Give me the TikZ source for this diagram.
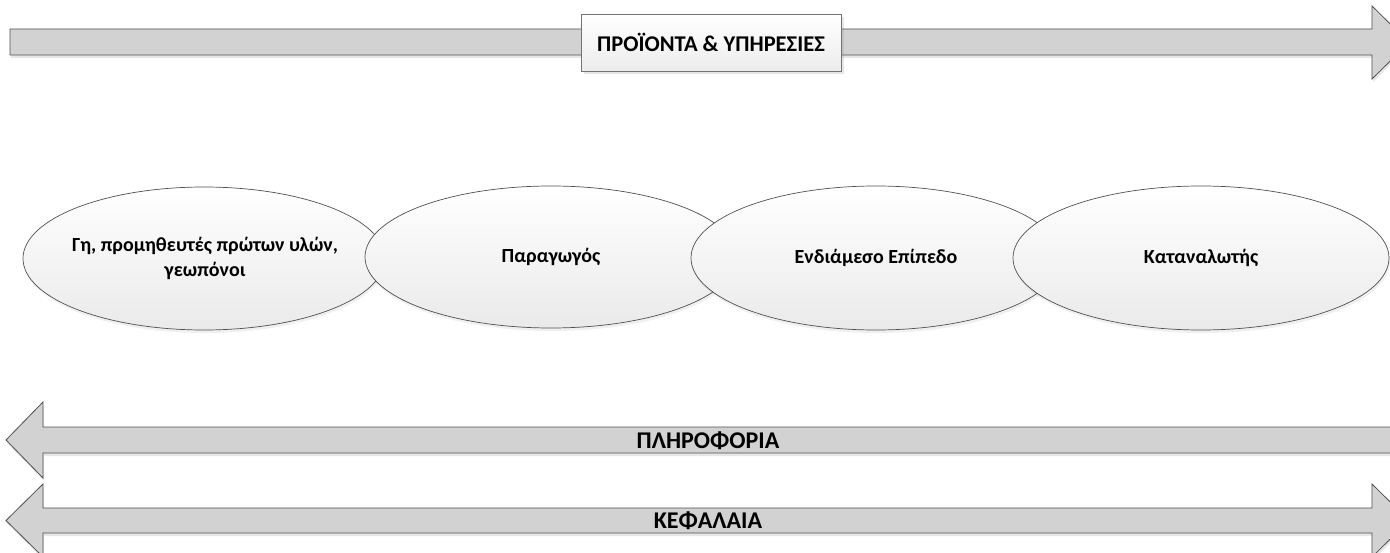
\documentclass[tikz,border=0pt]{standalone}
\usepackage{fontspec}
\setmainfont{Carlito}
\usetikzlibrary{shapes.geometric,shadows}
\definecolor{arrowfill}{RGB}{210,210,210}
\definecolor{edgegray}{RGB}{80,80,80}
\definecolor{ellbottom}{RGB}{234,234,234}
\definecolor{boxbottom}{RGB}{236,236,236}
\tikzset{
  blockarrow/.style={fill=arrowfill, draw=edgegray, line width=0.8pt, line join=miter,
    drop shadow={shadow xshift=1pt, shadow yshift=-3pt, opacity=0.2, fill=gray}},
  arrowtext/.style={font=\fontsize{24}{28}\selectfont\bfseries, text=black},
  ovaltext/.style={font=\fontsize{20}{25}\selectfont\bfseries, text=black, align=center},
  oval/.style={ellipse, draw=edgegray, line width=0.7pt, top color=white, bottom color=ellbottom,
    inner sep=0pt,
    drop shadow={shadow xshift=1pt, shadow yshift=-3pt, opacity=0.12, fill=gray}},
  labelbox/.style={rectangle, draw=edgegray!80, line width=0.7pt, top color=white, bottom color=boxbottom,
    minimum width=260pt, minimum height=57pt, inner sep=0pt,
    font=\fontsize{22.5}{27}\selectfont\bfseries,
    drop shadow={shadow xshift=3pt, shadow yshift=-3pt, opacity=0.2, fill=gray}}
}
\begin{document}
\begin{tikzpicture}[x=1pt, y=-1pt]
\useasboundingbox (0,0) rectangle (1390,553);
\clip (0,0) rectangle (1390,553);
% top arrow: products & services
\draw[blockarrow] (10,29) -- (1372,29) -- (1372,6) -- (1409,42.5) -- (1372,79) -- (1372,55) -- (10,55) -- cycle;
\node[labelbox] (prod) at (711,42.5) {ΠΡΟΪΟΝΤΑ \& ΥΠΗΡΕΣΙΕΣ};
% ellipses
\node[oval, minimum width=362pt, minimum height=143pt] (e1) at (204,258.5) {};
\node[ovaltext] (t1) at (205,258) {Γη, προμηθευτές πρώτων υλών,\\γεωπόνοι};
\node[oval, minimum width=372pt, minimum height=142pt] (e2) at (551,257) {};
\node[ovaltext] (t2) at (e2.center) {Παραγωγός};
\node[oval, minimum width=370pt, minimum height=144pt] (e3) at (876,258) {};
\node[ovaltext] (t3) at (e3.center) {Ενδιάμεσο Επίπεδο};
\node[oval, minimum width=376pt, minimum height=144pt] (e4) at (1201,258) {};
\node[ovaltext] (t4) at (e4.center) {Καταναλωτής};
% information arrow (to the left)
\draw[blockarrow] (1420,427) -- (43,427) -- (43,402) -- (6,440) -- (43,478) -- (43,453) -- (1420,453);
\node[arrowtext] (info) at (708,441) {ΠΛΗΡΟΦΟΡΙΑ};
% capital arrow (both ways)
\draw[blockarrow] (43,508) -- (1372,508) -- (1372,484) -- (1409,520.5) -- (1372,557) -- (1372,533) -- (43,533) -- (43,557) -- (6,520.5) -- (43,484) -- cycle;
\node[arrowtext] (cap) at (708,521) {ΚΕΦΑΛΑΙΑ};
\end{tikzpicture}
\end{document}
